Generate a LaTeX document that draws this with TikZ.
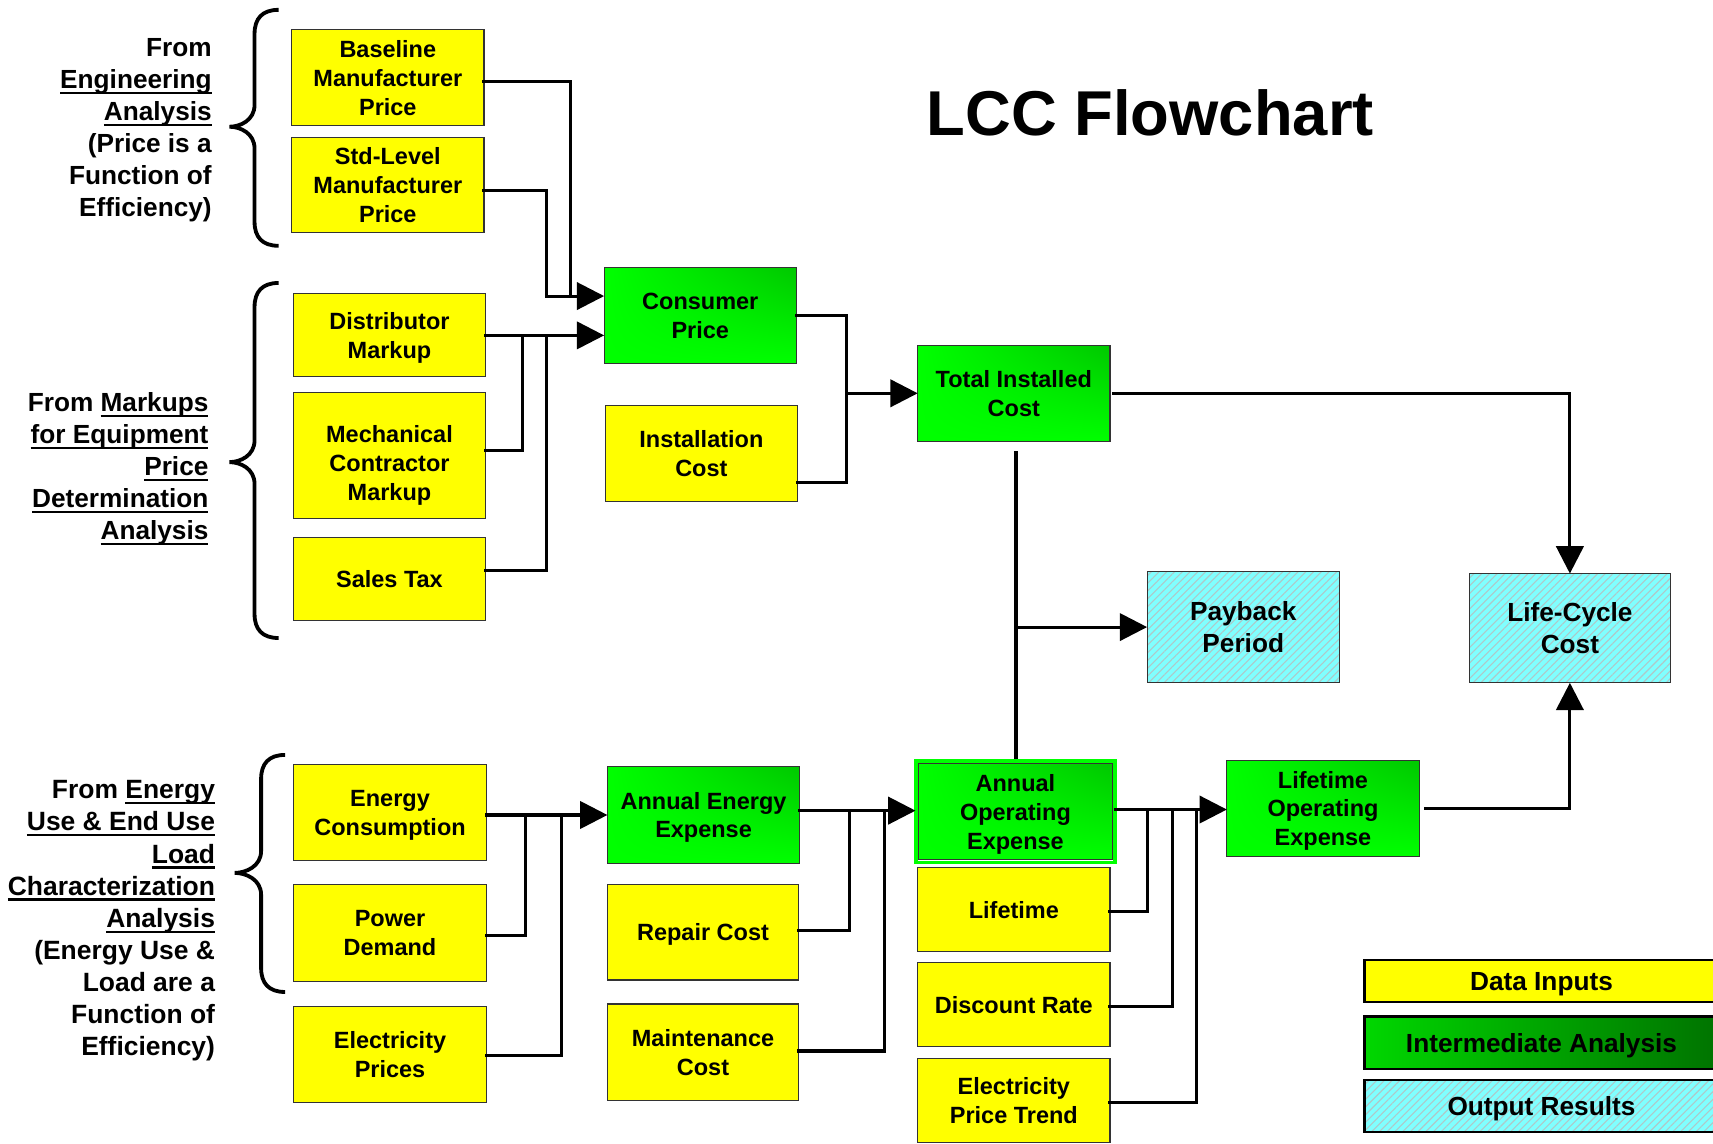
\documentclass[tikz,border=0pt]{standalone}
\usepackage{fontspec}
\setmainfont{Liberation Sans}
\usetikzlibrary{arrows.meta,patterns.meta,shadings}
\definecolor{yel}{RGB}{255,255,0}
\definecolor{gbright}{RGB}{0,255,0}
\definecolor{gdark}{RGB}{0,200,0}
\definecolor{gleg}{RGB}{0,215,0}
\definecolor{gleg2}{RGB}{0,115,0}
\definecolor{cyanfill}{RGB}{128,255,255}
\definecolor{hatch}{RGB}{175,200,200}
\newcommand\ulbox[1]{\setbox0=\hbox{#1}\rlap{\rule[-5pt]{\wd0}{2pt}}\box0}
\newcommand\lccbrace[6]{%
 \draw[brc] (#1,#4) .. controls ({#2+7},#4) and (#2,{#4+8}) .. (#2,{#4+22}) -- (#2,{#5-20}) .. controls (#2,{#5-6}) and ({#3+10},#5) .. (#3,#5) .. controls ({#3+10},#5) and (#2,{#5+6}) .. (#2,{#5+20}) -- (#2,{#6-22}) .. controls (#2,{#6-8}) and ({#2+7},#6) .. (#1,#6);}
\tikzset{
 box/.style={draw=black!80, line width=1pt, align=center, inner sep=2pt, outer sep=0pt, text depth=0pt,
   font=\fontsize{21.5}{26.5}\selectfont\bfseries},
 ybox/.style={box, fill=yel},
 gbox/.style={box, upper left=gbright, lower left=gbright, lower right=gbright, upper right=gdark},
 pbox/.style={box, preaction={fill=cyanfill}, pattern={Lines[angle=45,distance=5pt,line width=1pt]},
   pattern color=hatch, font=\fontsize{24}{29}\selectfont\bfseries},
 wh/.style 2 args={minimum width=#1, minimum height=#2},
 ln/.style={line width=2.8pt, line cap=rect},
 arr/.style={ln, -{Triangle[length=25pt,width=25pt]}},
 brc/.style={line width=3.5pt},
 lab/.style={anchor=east, align=right, font=\fontsize{24}{29.3}\selectfont\bfseries, inner sep=0pt},
 leg/.style={box, draw=black, line width=2pt, wh={324}{38}, font=\fontsize{24}{28}\selectfont\bfseries}
}
\begin{document}
\begin{tikzpicture}[x=1pt,y=-1pt]
\useasboundingbox (0,0) rectangle (1568,1047);

\node[font=\fontsize{58}{62}\selectfont\bfseries] (title) at (1053,103) {LCC Flowchart};

% left labels
\node[lab] (lab1) at (194,119) {From\\\ulbox{Engineering}\\\ulbox{Analysis}\\(Price is a\\Function of\\Efficiency)};
\node[lab] (lab2) at (191,429) {From \ulbox{Markups}\\\ulbox{for Equipment}\\\ulbox{Price}\\\ulbox{Determination}\\\ulbox{Analysis}};
\node[lab, font=\fontsize{24.2}{29.4}\selectfont\bfseries] (lab3) at (197,843) {From \ulbox{Energy}\\\ulbox{Use \& End Use}\\\ulbox{Load}\\\ulbox{Characterization}\\\ulbox{Analysis}\\(Energy Use \&\\Load are a\\Function of\\Efficiency)};

% braces
\lccbrace{255}{233}{210}{9}{116}{225}
\lccbrace{255}{233}{210}{259}{423}{584}
\lccbrace{261}{239}{215}{691}{799}{908}

% boxes
\node[ybox, wh={176}{88}] (base) at (355,71) {Baseline\\Manufacturer\\Price};
\node[ybox, wh={176}{87}] (std) at (355,169.5) {Std-Level\\Manufacturer\\Price};
\node[ybox, wh={175}{76}] (dist) at (356.5,307) {Distributor\\Markup};
\node[ybox, wh={175}{116}] (mech) at (356.5,417) {\rule{0pt}{29pt}Mechanical\\Contractor\\Markup};
\node[ybox, wh={175}{76}] (sales) at (356.5,530) {Sales Tax};
\node[gbox, wh={176}{88}] (cons) at (641,289) {Consumer\\Price};
\node[ybox, wh={176}{88}] (inst) at (642,415) {Installation\\Cost};
\node[gbox, wh={176}{88}] (tic) at (928,360) {Total Installed\\Cost};
\node[pbox, wh={176}{102}] (pay) at (1138,574) {Payback\\Period};
\node[pbox, wh={184}{100}] (lcc) at (1437,575) {Life-Cycle\\Cost};
\node[ybox, wh={176}{88}] (ec) at (357,744) {Energy\\Consumption};
\node[ybox, wh={176}{88}] (pd) at (357,854) {Power\\Demand};
\node[ybox, wh={176}{88}] (ep) at (357,965) {Electricity\\Prices};
\node[gbox, wh={176}{88}] (aee) at (644,746) {Annual Energy\\Expense};
\node[ybox, wh={175}{87}] (rep) at (643.5,853.5) {Repair Cost};
\node[ybox, wh={175}{88}] (maint) at (643.5,963) {Maintenance\\Cost};
\node[gbox, wh={177}{88}] (aoe) at (929.5,743) {Annual\\Operating\\Expense};
\draw[draw=gbright, line width=3pt] ([shift={(-2.5,-2.5)}]aoe.north west) rectangle ([shift={(2.5,2.5)}]aoe.south east);
\node[ybox, wh={176}{77}] (life) at (928,832.5) {Lifetime};
\node[ybox, wh={176}{77}] (disc) at (928,919.5) {Discount Rate};
\node[ybox, wh={176}{77}] (ept) at (928,1007.5) {Electricity\\Price Trend};
\node[gbox, wh={176}{88}] (loe) at (1211,740) {Lifetime\\Operating\\Expense};

% legend
\begin{scope}
\clip (0,0) rectangle (1568,1047);
\node[leg, fill=yel] (legd) at (1411,898) {Data Inputs};
\node[leg, left color=gleg, right color=gleg2, wh={324}{48}] (legi) at (1411,954.5) {Intermediate Analysis};
\node[leg, preaction={fill=cyanfill}, pattern={Lines[angle=45,distance=5pt,line width=1pt]}, pattern color=hatch, wh={324}{48}] (lego) at (1411,1012.5) {Output Results};
\end{scope}

% upper connectors
\coordinate (jA) at (522,271);
\coordinate (jB) at (500,271);
\coordinate (jC) at (478,307);
\coordinate (jD) at (500,307);
\draw[ln] ([yshift=-4pt]base.east) -| (jA);
\draw[ln] ([yshift=-4.5pt]std.east) -| (jB);
\draw[arr] (jB) -- (cons.west |- jB);
\draw[arr] (dist.east) -- (cons.west |- dist.east);
\draw[ln] ([yshift=5pt]mech.east) -| (jC);
\draw[ln] ([yshift=8pt]sales.east) -| (jD);
\coordinate (jE) at (775,360);
\draw[ln] (cons.east) -| (jE);
\draw[ln] ([yshift=-27pt]inst.east) -| (jE);
\draw[arr] (jE) -- (tic.west);
\draw[arr] ([xshift=3pt]tic.east) -| (lcc.north);
\draw[ln] ([xshift=2pt,yshift=-10pt]tic.south) -- ([xshift=0.5pt,yshift=6pt]aoe.north);
\coordinate (jP) at (930,574);
\draw[arr] (jP) -- (pay.west);

% lower connectors
\coordinate (jF) at (481,746);
\coordinate (jG) at (514,746);
\draw[arr] (ec.east |- aee.west) -- (aee.west);
\draw[ln] ([yshift=-2pt]pd.east) -| (jF);
\draw[ln] ([yshift=-1pt]ep.east) -| (jG);
\coordinate (jH) at (778,742);
\coordinate (jI) at (810,742);
\draw[arr] ([yshift=4pt]aee.east) -- ([xshift=-3pt,yshift=1pt]aoe.west);
\draw[ln] ([yshift=1.5pt]rep.east) -| (jH);
\draw[ln] ([yshift=1pt]maint.east) -| (jI);
\coordinate (jJ) at (1050,741);
\coordinate (jK) at (1073,741);
\coordinate (jM) at (1095,741);
\draw[arr] ([xshift=3pt,yshift=2pt]aoe.east) -- (loe.west |- jJ);
\draw[ln] ([yshift=-2pt]life.east) -| (jJ);
\draw[ln] ([yshift=-2pt]disc.east) -| (jK);
\draw[ln] ([yshift=-2pt]ept.east) -| (jM);
\draw[arr] ([xshift=6pt]loe.east) -| (lcc.south);
\end{tikzpicture}
\end{document}
